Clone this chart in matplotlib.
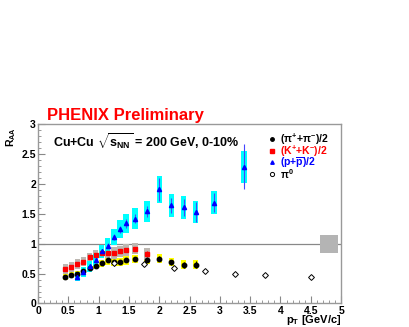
import numpy as np
import matplotlib.pyplot as plt
from matplotlib.ticker import MultipleLocator

plt.rcParams['font.family'] = ['Liberation Sans', 'DejaVu Sans']
plt.rcParams['mathtext.fontset'] = 'custom'
plt.rcParams['mathtext.rm'] = 'Liberation Sans:bold'
plt.rcParams['mathtext.it'] = 'Liberation Sans:bold'
plt.rcParams['mathtext.bf'] = 'Liberation Sans:bold'

# (pi+ + pi-)/2
pi_pt   = [0.45, 0.55, 0.65, 0.75, 0.85, 0.95, 1.05, 1.15, 1.25, 1.35, 1.45, 1.6, 1.8, 2.0, 2.2, 2.4, 2.6]
pi_raa  = [0.45, 0.47, 0.50, 0.55, 0.60, 0.63, 0.67, 0.72, 0.70, 0.69, 0.72, 0.74, 0.73, 0.75, 0.69, 0.65, 0.65]
pi_stat = [0.02, 0.02, 0.02, 0.02, 0.02, 0.02, 0.02, 0.02, 0.03, 0.03, 0.03, 0.03, 0.04, 0.04, 0.04, 0.05, 0.06]
pi_sys  = [0.05, 0.05, 0.05, 0.05, 0.06, 0.06, 0.06, 0.07, 0.07, 0.07, 0.07, 0.07, 0.07, 0.08, 0.07, 0.07, 0.07]

# (K+ + K-)/2
k_pt   = [0.45, 0.55, 0.65, 0.75, 0.85, 0.95, 1.05, 1.15, 1.25, 1.35, 1.45, 1.6, 1.8]
k_raa  = [0.58, 0.61, 0.66, 0.70, 0.77, 0.81, 0.85, 0.85, 0.84, 0.87, 0.89, 0.92, 0.83]
k_stat = [0.02, 0.02, 0.02, 0.02, 0.02, 0.02, 0.02, 0.03, 0.03, 0.03, 0.03, 0.03, 0.04]
k_sys  = [0.08, 0.08, 0.08, 0.08, 0.08, 0.09, 0.09, 0.09, 0.10, 0.10, 0.10, 0.10, 0.10]

# (p + pbar)/2
p_pt   = [0.65, 0.75, 0.85, 0.95, 1.05, 1.15, 1.25, 1.35, 1.45, 1.6, 1.8, 2.0, 2.2, 2.4, 2.6, 2.9, 3.4]
p_raa  = [0.45, 0.53, 0.62, 0.73, 0.87, 0.97, 1.11, 1.24, 1.34, 1.42, 1.54, 1.91, 1.64, 1.61, 1.53, 1.69, 2.29]
p_stat = [0.02, 0.02, 0.02, 0.03, 0.03, 0.04, 0.05, 0.06, 0.07, 0.07, 0.09, 0.19, 0.12, 0.14, 0.17, 0.16, 0.38]
p_sys  = [0.07, 0.08, 0.09, 0.10, 0.11, 0.12, 0.13, 0.15, 0.16, 0.17, 0.18, 0.22, 0.19, 0.19, 0.18, 0.19, 0.27]

# pi0
pi0_pt   = [1.25, 1.75, 2.25, 2.75, 3.25, 3.75, 4.5]
pi0_raa  = [0.67, 0.66, 0.59, 0.54, 0.50, 0.48, 0.44]
pi0_stat = [0.05, 0.02, 0.01, 0.01, 0.01, 0.01, 0.01]

norm_sys = 0.15

fig = plt.figure(figsize=(4.09, 3.27), dpi=100)
ax = fig.add_axes([0.093, 0.072, 0.741, 0.548])

bw = 0.09
ax.bar(pi_pt, 2 * np.array(pi_sys), bottom=np.array(pi_raa) - pi_sys, width=bw,
       color='#ffff00', zorder=1)
ax.bar(k_pt, 2 * np.array(k_sys), bottom=np.array(k_raa) - k_sys, width=bw,
       color='#bdb7b1', zorder=1)
ax.bar(p_pt, 2 * np.array(p_sys), bottom=np.array(p_raa) - p_sys, width=bw,
       color='#00ffff', zorder=2)
ax.bar([4.8], [2 * norm_sys], bottom=[1 - norm_sys], width=0.3, color='#b4b4b4', zorder=2)

ax.axhline(1, color='#888888', lw=0.9, zorder=0.5)

ax.errorbar(pi_pt, pi_raa, yerr=pi_stat, fmt='o', color='black', ms=3.2, lw=0.8,
            capsize=0, zorder=4)
ax.errorbar(k_pt, k_raa, yerr=k_stat, fmt='s', color='red', ms=3, lw=0.8,
            capsize=0, zorder=4)
ax.errorbar(p_pt, p_raa, yerr=p_stat, fmt='^', color='blue', ms=3, lw=0.8,
            ecolor='#4444ff', capsize=0, zorder=5)
ax.errorbar(pi0_pt, pi0_raa, yerr=pi0_stat, fmt='D', mfc='white', mec='black',
            color='black', ms=3, mew=0.7, lw=0.7, capsize=0, zorder=4)

ax.set_xlim(0, 5)
ax.set_ylim(0, 3)
ax.xaxis.set_minor_locator(MultipleLocator(0.1))
ax.yaxis.set_minor_locator(MultipleLocator(0.1))
ax.tick_params(which='both', direction='in', colors='#888888', labelcolor='black',
               labelsize=7.5, pad=1.5)
ax.tick_params(which='major', length=5, width=0.8)
ax.tick_params(which='minor', length=2.5, width=0.6)
ax.set_xticks([0, 0.5, 1, 1.5, 2, 2.5, 3, 3.5, 4, 4.5, 5])
ax.set_xticklabels(['0', '0.5', '1', '1.5', '2', '2.5', '3', '3.5', '4', '4.5', '5'],
                   fontweight='bold')
ax.set_yticks([0, 0.5, 1, 1.5, 2, 2.5, 3])
ax.set_yticklabels(['0', '0.5', '1', '1.5', '2', '2.5', '3'], fontweight='bold')
for s in ax.spines.values():
    s.set_color('#999999')
    s.set_linewidth(1.0)

ax.text(1.0, -0.108, r'p$_{\mathregular{T}}$ [GeV/c]', transform=ax.transAxes,
        ha='right', va='baseline', fontsize=8, fontweight='bold')
fig.text(0.027, 0.612, r'R$_{\mathregular{AA}}$', rotation=90, ha='center', va='top',
         fontsize=7.5, fontweight='bold')
fig.text(0.115, 0.633, 'PHENIX Preliminary', color='red', fontsize=12,
         fontweight='bold', ha='left', va='baseline')
ax.text(0.05, 0.955, r'Cu+Cu $\sqrt{\mathregular{s}_{\mathregular{NN}}}$ = 200 GeV, 0-10%',
        transform=ax.transAxes, ha='left', va='top', fontsize=9, fontweight='bold')

# legend
leg_x_m = 0.772
leg_x_t = 0.80
leg_y = [0.916, 0.849, 0.788, 0.721]
leg_txt = [r'($\pi^{+}$+$\pi^{-}$)/2', r'(K$^{+}$+K$^{-}$)/2',
           r'(p+$\overline{\mathregular{p}}$)/2', r'$\pi^{0}$']
leg_col = ['black', 'red', 'blue', 'black']
leg_mk = ['o', 's', '^', 'o']
for yy, t, c, m in zip(leg_y, leg_txt, leg_col, leg_mk):
    if t == r'$\pi^{0}$':
        ax.plot([leg_x_m], [yy], m, transform=ax.transAxes, mfc='white', mec='black',
                ms=3, mew=0.7, clip_on=False)
    else:
        ax.plot([leg_x_m], [yy], m, transform=ax.transAxes, color=c, ms=2.5, clip_on=False)
    ax.text(leg_x_t, yy, t, transform=ax.transAxes, color=c, fontsize=7.5,
            fontweight='bold', ha='left', va='center')

fig.savefig('out.png', dpi=100)
